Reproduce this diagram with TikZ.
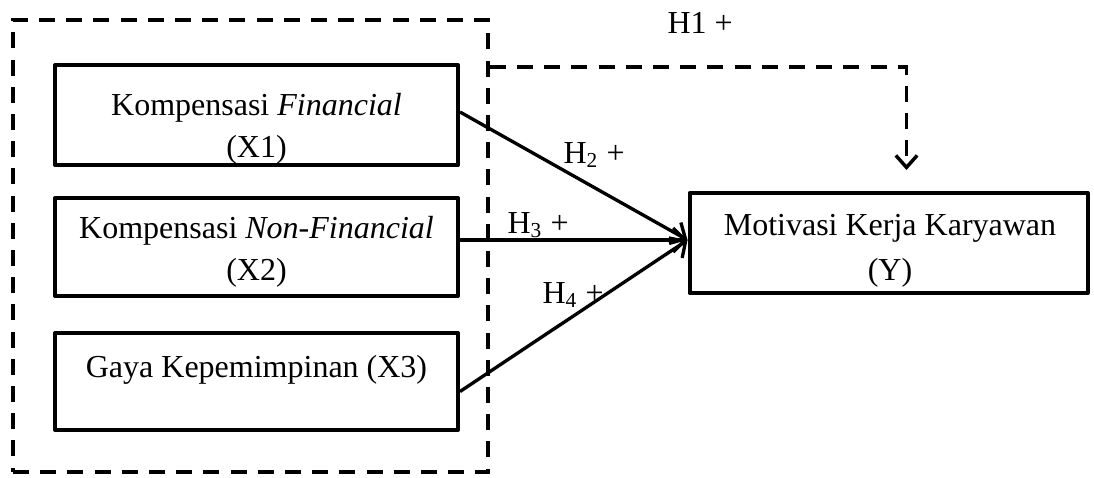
\documentclass[tikz,border=0pt]{standalone}
\usepackage{fontspec}
\setmainfont{Liberation Serif}
\usetikzlibrary{calc,arrows.meta}
\begin{document}
\begin{tikzpicture}[x=0.375pt,y=-0.375pt,
  box/.style={draw,line width=1.5pt,line join=round,rectangle,inner sep=0pt},
  txt/.style={anchor=base,inner sep=0pt,font=\fontsize{12}{14}\selectfont},
  lbl/.style={anchor=base west,inner sep=0pt,font=\fontsize{12}{14}\selectfont},
  dashline/.style={line width=1.4pt,dash pattern=on 6pt off 4.2pt},
  conn/.style={line width=1.25pt,-{Straight Barb[length=4.5pt,width=9pt,line width=1.25pt]}}]
\useasboundingbox (0,0) rectangle (1094,477);
% group
\node[dashline,draw,rectangle,inner sep=0pt,minimum width={475*0.375pt},minimum height={452*0.375pt}] (grp) at (250.5,246) {};
% boxes
\node[box,minimum width={403*0.375pt},minimum height={100*0.375pt}] (b1) at (256.5,115) {};
\node[box,minimum width={403*0.375pt},minimum height={98*0.375pt}] (b2) at (256.5,247) {};
\node[box,minimum width={403*0.375pt},minimum height={97*0.375pt}] (b3) at (256.5,381.5) {};
\node[box,minimum width={398*0.375pt},minimum height={100*0.375pt}] (y) at (888.5,243) {};
% texts
\node[txt] (t1a) at (256.5,115) {Kompensasi \textit{Financial}};
\node[txt] (t1b) at (256.5,157) {(X1)};
\node[txt] (t2a) at (256.5,238) {Kompensasi \textit{Non-Financial}};
\node[txt] (t2b) at (256.5,280) {(X2)};
\node[txt] (t3) at (256.5,377) {Gaya Kepemimpinan (X3)};
\node[txt] (tya) at (890,235) {Motivasi Kerja Karyawan};
\node[txt] (tyb) at (890,280) {(Y)};
% connectors
\coordinate (yin) at ($(y.west)+(0,-3)$);
\draw[conn] ($(b1.east)+(0,-3)$) -- (yin);
\draw[conn] ($(b2.east)+(0,-7)$) -- (yin);
\draw[conn] ($(b3.east)+(0,10)$) -- (yin);
\coordinate (h1end) at ($(y.north)+(18,-21)$);
\draw[dashline,-{Straight Barb[length=4.5pt,width=8pt,line width=1.3pt]}] ($(grp.north east)+(0,49)$) -| (h1end);
% labels
\node[lbl] (h1) at (667,33) {H1 +};
\node[lbl] (h2) at (563,163) {H\textsubscript{2} +};
\node[lbl] (h3) at (507,233) {H\textsubscript{3} +};
\node[lbl] (h4) at (542,303) {H\textsubscript{4} +};
\end{tikzpicture}
\end{document}
